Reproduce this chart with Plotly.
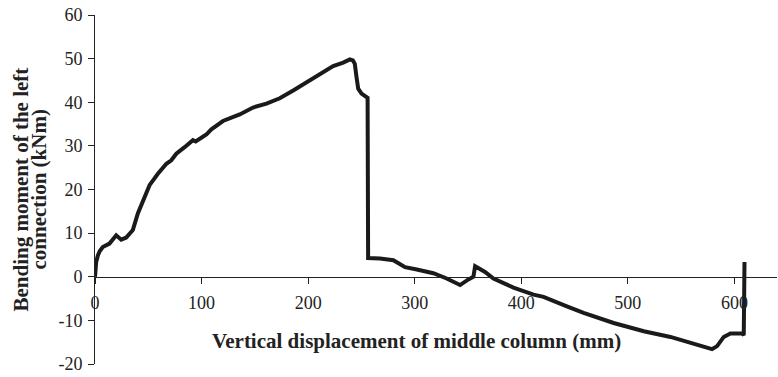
import plotly.graph_objects as go

# Vertical displacement of middle column (mm)
displacement = [0, 1.1, 2.7, 4.5, 7.3, 13.6, 19.9, 24.6, 29.3, 35.5, 40.2, 46.5, 51.2, 59.0,
                67.0, 71.6, 76.3, 84.1, 91.9, 94.5, 104.5, 109.2, 120.1, 135.8, 148.3, 160.9,
                173.4, 186.0, 198.5, 211.0, 223.5, 232.9, 239.2, 242.0, 243.8, 245.4, 247.0,
                250.1, 254.8, 255.8, 256.3, 267.4, 280.0, 286.2, 291.0, 302.0, 317.5, 330.0,
                342.6, 350.4, 355.1, 356.7, 366.0, 373.9, 392.7, 411.5, 420.9, 442.8, 458.5,
                486.7, 515.0, 540.0, 562.0, 579.0, 583.8, 590.0, 596.3, 607.3, 608.8, 609.5]
# Bending moment of the left connection (kNm)
moment = [0, 3.4, 4.9, 5.9, 6.8, 7.6, 9.5, 8.5, 9.0, 10.7, 14.5, 18.3, 21.0, 23.6,
          25.9, 26.7, 28.2, 29.7, 31.3, 31.0, 32.6, 33.8, 35.7, 37.2, 38.8, 39.7,
          40.9, 42.7, 44.6, 46.5, 48.3, 49.1, 49.8, 49.6, 48.8, 45.8, 43.1,
          42.0, 41.2, 41.0, 4.3, 4.2, 3.8, 2.8, 2.2, 1.65, 0.8, -0.4,
          -1.9, -0.6, 0.0, 2.4, 1.1, -0.4, -2.5, -4.1, -4.6, -6.8, -8.3,
          -10.6, -12.5, -13.8, -15.3, -16.6, -15.9, -13.8, -13.0, -13.0, -13.4, 3.4]

x_ticks = [0, 100, 200, 300, 400, 500, 600]
x_tick_labels = ["0", "100", "200", "300", "400", "500", "600"]
y_ticks = [-20, -10, 0, 10, 20, 30, 40, 50, 60]
y_tick_labels = ["-20", "-10", "0", "10", "20", "30", "40", "50", "60"]

FONT = "Liberation Serif, Times New Roman, serif"

fig = go.Figure()
fig.add_trace(go.Scatter(x=displacement, y=moment, mode="lines",
                         line=dict(color="#1a1a1a", width=4), showlegend=False))

fig.update_layout(
    width=778, height=377,
    margin=dict(l=95, r=1, t=15, b=13),
    paper_bgcolor="white", plot_bgcolor="white",
    font=dict(family=FONT, size=18, color="#222"),
    xaxis=dict(range=[0, 640], tickvals=x_ticks, ticktext=x_tick_labels,
               showgrid=False, zeroline=False,
               showline=True, linecolor="#222", linewidth=1,
               ticks="outside", ticklen=6, tickcolor="#222", ticklabelstandoff=4,
               anchor="free", position=0.25, tickfont=dict(size=18)),
    yaxis=dict(range=[-20, 60], tickvals=y_ticks, ticktext=y_tick_labels,
               showgrid=False, zeroline=False,
               showline=True, linecolor="#222", linewidth=1,
               ticks="outside", ticklen=6, tickcolor="#222", ticklabelstandoff=2,
               tickfont=dict(size=18)),
    annotations=[
        dict(text="<b>Vertical displacement of middle column (mm)</b>",
             xref="paper", yref="paper", x=(416.5 - 95) / 682, y=(377 - 13 - 341) / 349,
             xanchor="center", yanchor="middle", showarrow=False,
             font=dict(family=FONT, size=21, color="#222")),
        dict(text="<b>Bending moment of the left</b>",
             xref="paper", yref="paper", x=(20 - 95) / 682, y=0.5,
             xanchor="center", yanchor="middle", textangle=-90, showarrow=False,
             font=dict(family=FONT, size=21, color="#222")),
        dict(text="<b>connection (kNm)</b>",
             xref="paper", yref="paper", x=(38 - 95) / 682, y=0.5,
             xanchor="center", yanchor="middle", textangle=-90, showarrow=False,
             font=dict(family=FONT, size=21, color="#222")),
    ],
)

fig.write_html("out.html")
